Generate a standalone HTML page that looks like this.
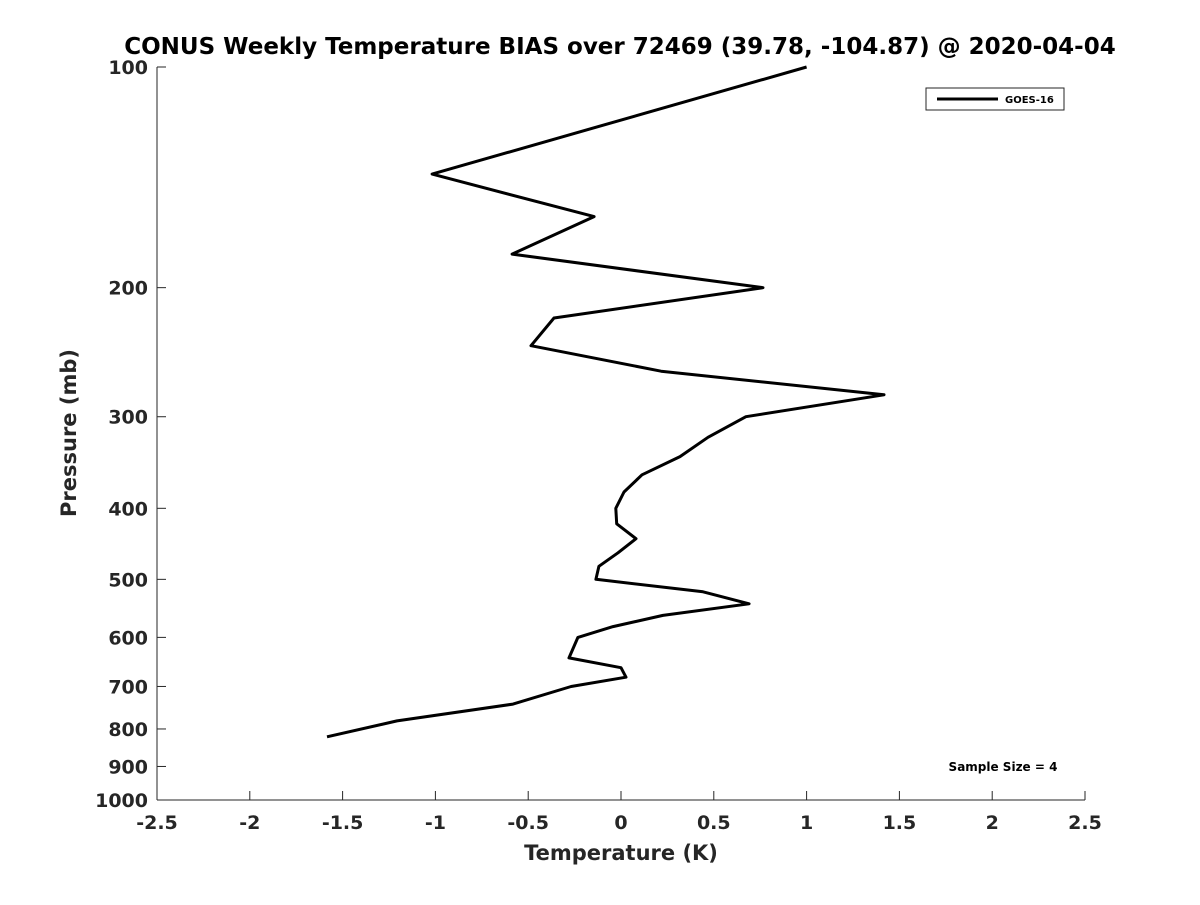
<!DOCTYPE html>
<html><head><meta charset="utf-8"><style>
body{margin:0;background:#fff}
svg text{font-family:"DejaVu Sans","Liberation Sans",sans-serif;font-weight:bold;fill:#262626}
</style></head><body>
<svg width="1200" height="900" xmlns="http://www.w3.org/2000/svg" id="c">
<text x="620" y="54" text-anchor="middle" font-size="23" style="fill:#000">CONUS Weekly Temperature BIAS over 72469 (39.78, -104.87) @ 2020-04-04</text>
<g id="axes"></g>
<text x="621" y="860" text-anchor="middle" font-size="21">Temperature (K)</text>
<text transform="translate(76,433) rotate(-90)" text-anchor="middle" font-size="21">Pressure (mb)</text>
<g>
<rect x="926" y="88" width="138" height="22" fill="#fff" stroke="#262626" stroke-width="1"/>
<line x1="937" y1="99" x2="998" y2="99" stroke="#000" stroke-width="3"/>
<text x="1005" y="103" font-size="10" style="fill:#000">GOES-16</text>
</g>
<text x="1003" y="771" text-anchor="middle" font-size="12" style="fill:#000">Sample Size = 4</text>
</svg>
<script>
const pressures=[100,140,160,180,200,220,240,260,280,300,320,340,360,380,400,420,440,460,480,500,520,540,560,580,600,640,660,680,700,740,780,820];
const temps=[1.0,-1.018,-0.145,-0.587,0.765,-0.361,-0.485,0.216,1.417,0.673,0.469,0.318,0.113,0.016,-0.028,-0.023,0.081,-0.016,-0.119,-0.135,0.442,0.690,0.226,-0.043,-0.232,-0.280,0.0,0.027,-0.269,-0.582,-1.207,-1.584];
const xTicks=[-2.5,-2,-1.5,-1,-0.5,0,0.5,1,1.5,2,2.5];
const yTicks=[100,200,300,400,500,600,700,800,900,1000];
const L=157,R=1085,T=67,B=800;
const xs=t=>L+(t+2.5)/5*(R-L);
const ys=p=>T+(Math.log10(p)-2)*(B-T);
const NS="http://www.w3.org/2000/svg";
const svg=document.getElementById('c'),ax=document.getElementById('axes');
function mk(tag,at,parent){const e=document.createElementNS(NS,tag);for(const k in at)e.setAttribute(k,at[k]);(parent||ax).appendChild(e);return e;}
const xl=mk('line',{x1:L,y1:B,x2:R,y2:B,stroke:'#262626','stroke-width':1});


const yl=mk('line',{x1:L,y1:T,x2:L,y2:B,stroke:'#262626','stroke-width':1});


xTicks.forEach(t=>{const x=xs(t);
 mk('line',{x1:x,y1:B,x2:x,y2:B-9,stroke:'#262626'});
 const tx=mk('text',{x:x,y:B+29,'text-anchor':'middle','font-size':19});tx.textContent=String(t);
 
 
});
yTicks.forEach(p=>{const y=ys(p);
 mk('line',{x1:L,y1:y,x2:L+9,y2:y,stroke:'#262626'});
 const tx=mk('text',{x:L-9,y:y+7,'text-anchor':'end','font-size':19});tx.textContent=String(p);
 
 
});
const pts=pressures.map((p,i)=>xs(temps[i]).toFixed(1)+','+ys(p).toFixed(1)).join(' ');
const pl=mk('polyline',{points:pts,fill:'none',stroke:'#000','stroke-width':3,'stroke-linejoin':'round'},svg);


</script>
</body></html>
